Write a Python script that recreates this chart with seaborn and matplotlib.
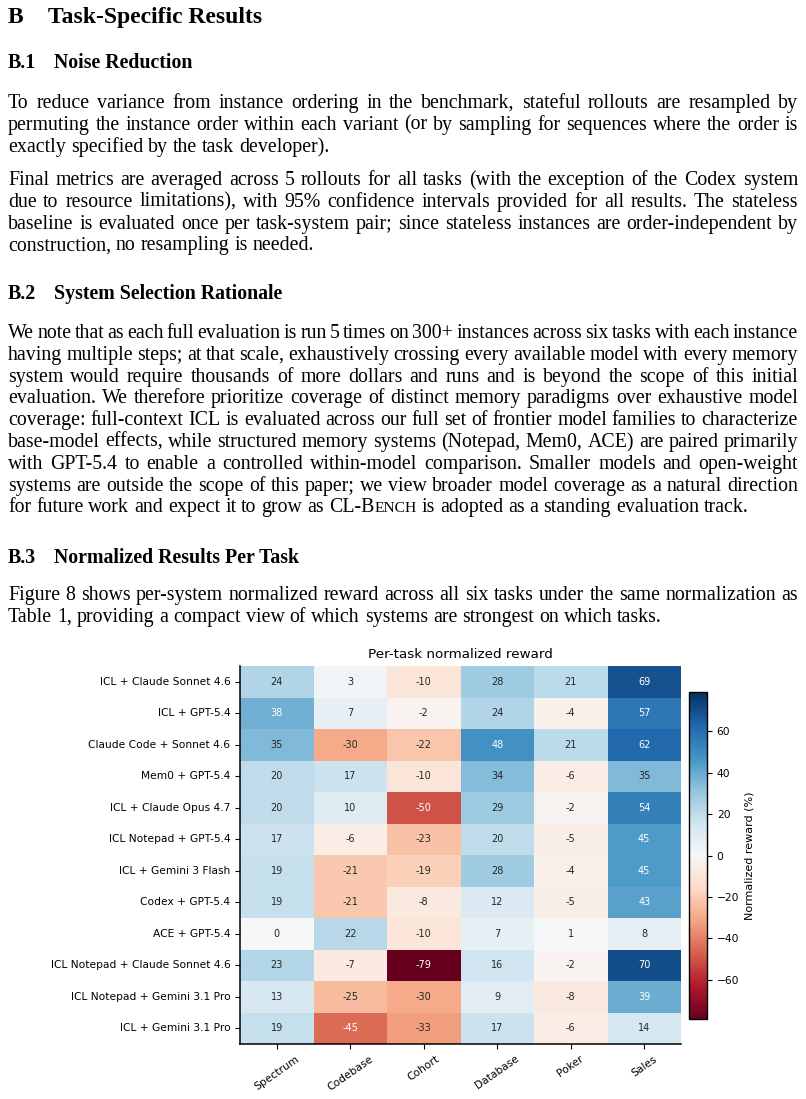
import matplotlib
matplotlib.use("Agg")
import matplotlib.pyplot as plt
import seaborn as sns
import numpy as np
import pandas as pd

# ---------------- data ----------------
systems = [
    "ICL + Claude Sonnet 4.6",
    "ICL + GPT-5.4",
    "Claude Code + Sonnet 4.6",
    "Mem0 + GPT-5.4",
    "ICL + Claude Opus 4.7",
    "ICL Notepad + GPT-5.4",
    "ICL + Gemini 3 Flash",
    "Codex + GPT-5.4",
    "ACE + GPT-5.4",
    "ICL Notepad + Claude Sonnet 4.6",
    "ICL Notepad + Gemini 3.1 Pro",
    "ICL + Gemini 3.1 Pro",
]
tasks = ["Spectrum", "Codebase", "Cohort", "Database", "Poker", "Sales"]
spectrum = [24, 38, 35, 20, 20, 17, 19, 19, 0, 23, 13, 19]
codebase = [3, 7, -30, 17, 10, -6, -21, -21, 22, -7, -25, -45]
cohort = [-10, -2, -22, -10, -50, -23, -19, -8, -10, -79, -30, -33]
database = [28, 24, 48, 34, 29, 20, 28, 12, 7, 16, 9, 17]
poker = [21, -4, 21, -6, -2, -5, -4, -5, 1, -2, -8, -6]
sales = [69, 57, 62, 35, 54, 45, 45, 43, 8, 70, 39, 14]
cbar_ticks = [-60, -40, -20, 0, 20, 40, 60]

title = "Per-task normalized reward"
cbar_label = "Normalized reward (%)"

heading_main = ("B", "Task-Specific Results")
sub1 = ("B.1", "Noise Reduction")
sub2 = ("B.2", "System Selection Rationale")
sub3 = ("B.3", "Normalized Results Per Task")

para1 = [
    "To reduce variance from instance ordering in the benchmark, stateful rollouts are resampled by",
    "permuting the instance order within each variant (or by sampling for sequences where the order is",
    "exactly specified by the task developer).",
]
para2 = [
    "Final metrics are averaged across 5 rollouts for all tasks (with the exception of the Codex system",
    "due to resource limitations), with 95% confidence intervals provided for all results. The stateless",
    "baseline is evaluated once per task-system pair; since stateless instances are order-independent by",
    "construction, no resampling is needed.",
]
para3 = [
    "We note that as each full evaluation is run 5 times on 300+ instances across six tasks with each instance",
    "having multiple steps; at that scale, exhaustively crossing every available model with every memory",
    "system would require thousands of more dollars and runs and is beyond the scope of this initial",
    "evaluation. We therefore prioritize coverage of distinct memory paradigms over exhaustive model",
    "coverage: full-context ICL is evaluated across our full set of frontier model families to characterize",
    "base-model effects, while structured memory systems (Notepad, Mem0, ACE) are paired primarily",
    "with GPT-5.4 to enable a controlled within-model comparison. Smaller models and open-weight",
    "systems are outside the scope of this paper; we view broader model coverage as a natural direction",
    "for future work and expect it to grow as CL-BENCH is adopted as a standing evaluation track.",
]
para4 = [
    "Figure 8 shows per-system normalized reward across all six tasks under the same normalization as",
    "Table 1, providing a compact view of which systems are strongest on which tasks.",
]

# ---------------- figure ----------------
W, H = 806, 1099
fig = plt.figure(figsize=(W / 100, H / 100), dpi=100)
renderer = fig.canvas.get_renderer()

SERIF = "Liberation Serif"
BODY = 14.3
LEFT, RIGHT = 8, 798


def fx(x):
    return x / W


def fy(y):
    return 1 - y / H


def runs_for(word, size):
    if word.startswith("CL-BENCH"):
        rest = word[len("CL-BENCH"):]
        r = [("CL-B", size), ("ENCH", size * 0.78)]
        if rest:
            r.append((rest, size))
        return r
    return [(word, size)]


def run_width(text, size, weight="normal"):
    t = fig.text(0, 0, text, fontsize=size, family=SERIF, fontweight=weight)
    w = t.get_window_extent(renderer).width
    t.remove()
    return w


def draw_runs(x, y, runs, weight="normal"):
    for text, size in runs:
        fig.text(fx(x), fy(y), text, fontsize=size, family=SERIF,
                 fontweight=weight, va="baseline", ha="left", color="black")
        x += run_width(text, size, weight)
    return x


space_w = BODY * 100 / 72 * 0.25


def draw_line(line, y, justify=True, size=BODY):
    words = line.split(" ")
    wruns = [runs_for(w, size) for w in words]
    widths = [sum(run_width(t, s) for t, s in r) for r in wruns]
    natural = sum(widths)
    if justify and len(words) > 1:
        gap = (RIGHT - LEFT - natural) / (len(words) - 1)
    else:
        gap = space_w
    x = LEFT
    for r, w in zip(wruns, widths):
        draw_runs(x, y, r)
        x += w + gap


def draw_para(lines, y0, step=21.8):
    for i, line in enumerate(lines):
        draw_line(line, y0 + i * step, justify=(i < len(lines) - 1))


def draw_heading(pair, y, size, x2):
    num, txt = pair
    fig.text(fx(LEFT), fy(y), num, fontsize=size, family=SERIF,
             fontweight="bold", va="baseline", ha="left")
    fig.text(fx(x2), fy(y), txt, fontsize=size, family=SERIF,
             fontweight="bold", va="baseline", ha="left")


draw_heading(heading_main, 23, 17, 48)
draw_heading(sub1, 68, 14.3, 54)
draw_para(para1, 108)
draw_para(para2, 185)
draw_heading(sub2, 299, 14.3, 54)
draw_para(para3, 338)
draw_heading(sub3, 563, 14.3, 54)
draw_para(para4, 600)

# ---------------- heatmap ----------------
df = pd.DataFrame(
    {"Spectrum": spectrum, "Codebase": codebase, "Cohort": cohort,
     "Database": database, "Poker": poker, "Sales": sales},
    index=systems,
)[tasks]
vlim = float(np.abs(df.values).max())

ax = fig.add_axes([fx(240), fy(1044), 441 / W, 378 / H])
cax = fig.add_axes([fx(689), fy(1019), 18 / W, 327 / H])

sns.heatmap(df, ax=ax, cbar_ax=cax, cmap="RdBu", center=0,
            vmin=-vlim, vmax=vlim, annot=True, fmt=".0f",
            annot_kws={"fontsize": 7.0},
            cbar_kws={"label": cbar_label})

ax.set_title(title, fontsize=9.7)
ax.set_xlabel("")
ax.set_ylabel("")
ax.tick_params(axis="both", labelsize=7.7, length=3.5, width=0.8)
ax.set_xticklabels(tasks, rotation=35, ha="center")
ax.set_yticklabels(systems, rotation=0)
for side in ["left", "bottom"]:
    ax.spines[side].set_visible(True)
    ax.spines[side].set_linewidth(1.1)
    ax.spines[side].set_color("black")

cb = ax.collections[0].colorbar
cb.outline.set_linewidth(1.0)
cb.outline.set_edgecolor("black")
cb.set_ticks(cbar_ticks)
cax.tick_params(labelsize=7.7, length=3.5, width=0.8)
cb.set_label(cbar_label, fontsize=8)

fig.savefig("out.png", dpi=100)
